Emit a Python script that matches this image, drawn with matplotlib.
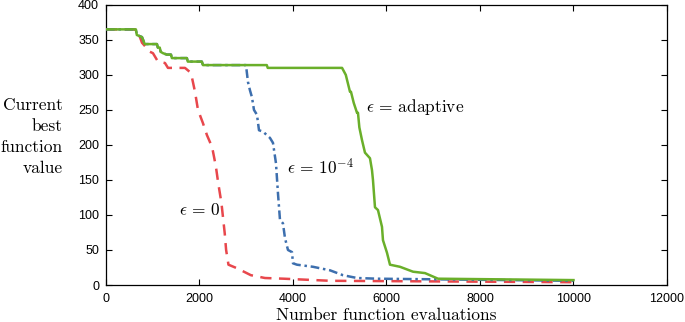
import matplotlib
matplotlib.use("Agg")
import matplotlib.pyplot as plt

plt.rcParams['mathtext.fontset'] = 'cm'

# eps = adaptive (green, solid)
adapt_x = [0, 640, 660, 770, 830, 1090, 1110, 1150, 1170, 1220, 1300, 1390, 1410, 1730, 1750, 2050, 2075,
           3440, 3460, 5050, 5130, 5219, 5240, 5300, 5369, 5390, 5420, 5476, 5540, 5647, 5690, 5711,
           5754, 5818, 5904, 5925, 6011, 6075, 6289, 6567, 6824, 7102, 10000]
adapt_y = [365, 365, 357, 354, 344, 344, 339, 339, 333, 331, 329, 329, 324, 324, 319, 319, 314,
           314, 310, 310, 300, 276, 276, 260, 246, 246, 225, 207, 189, 181, 164, 150,
           111, 107, 83, 64, 46, 29, 26, 19, 17, 9, 7]

# eps = 1e-4 (blue, dash-dot)
e4_x = [0, 640, 660, 770, 830, 1090, 1110, 1150, 1170, 1220, 1300, 1390, 1410, 1730, 1750, 2050, 2075,
        2995, 3037, 3080, 3123, 3166, 3230, 3273, 3358, 3508, 3572, 3636, 3680, 3722, 3786, 3829, 3893,
        3979, 4000, 4085, 4428, 4791, 5069, 5369, 5797, 10000]
e4_y = [365, 365, 357, 354, 344, 344, 339, 339, 333, 331, 329, 329, 324, 324, 319, 319, 314,
        314, 290, 278, 268, 250, 243, 221, 219, 210, 203, 174, 130, 93, 88, 67, 50,
        47, 31, 29, 26, 21, 14, 10, 9, 6]

# eps = 0 (red, dashed)
e0_x = [0, 620, 727, 770, 941, 1005, 1112, 1262, 1326, 1690, 1797, 1840, 1904, 1968, 2075,
        2160, 2270, 2320, 2360, 2400, 2470, 2540, 2570, 2620, 2800, 3100, 3400, 3800, 4800, 10000]
e0_y = [365, 365, 354, 346, 333, 331, 319, 317, 310, 310, 304, 296, 276, 250, 231,
        214, 197, 180, 165, 146, 117, 74, 50, 29, 24, 14, 10, 9, 6, 4]

xticks = [0, 2000, 4000, 6000, 8000, 10000, 12000]
yticks = [0, 50, 100, 150, 200, 250, 300, 350, 400]

fig = plt.figure(figsize=(6.85, 3.22), dpi=100)
ax = fig.add_axes([0.1547, 0.1149, 0.819, 0.870])

ax.plot(e0_x, e0_y, color='#e8474c', lw=1.8, ls=(0, (4.5, 3)), zorder=2)
ax.plot(e4_x, e4_y, color='#3d6fae', lw=1.8, ls=(0, (3.5, 1.5, 1, 1.5)), zorder=3)
ax.plot(adapt_x, adapt_y, color='#6aaf2a', lw=1.8, zorder=4)

ax.set_xlim(0, 12000)
ax.set_ylim(0, 400)
ax.set_xticks(xticks)
ax.set_yticks(yticks)
ax.tick_params(direction='in', top=True, right=True, length=4, width=0.8,
               labelsize=9)
ax.tick_params(axis='x', pad=6)
ax.tick_params(axis='y', pad=5)
for lab in ax.get_xticklabels() + ax.get_yticklabels():
    lab.set_family('Liberation Sans')
for s in ax.spines.values():
    s.set_linewidth(0.9)

ax.set_xlabel('Number function evaluations', family='cmr10', fontsize=12.5, labelpad=2)
fig.text(0.092, 0.575, 'Current\nbest\nfunction\nvalue', family='cmr10', fontsize=12.5,
         ha='right', va='center', linespacing=1.45)

ax.text(5560, 254, r'$\epsilon\,=\,\mathrm{adaptive}$', fontsize=12.5, va='center', ha='left')
ax.text(3880, 167, r'$\epsilon\,=\,10^{-4}$', fontsize=12.5, va='center', ha='left')
ax.text(1560, 107, r'$\epsilon\,=\,0$', fontsize=12.5, va='center', ha='left')

fig.savefig('out.png', dpi=100)
